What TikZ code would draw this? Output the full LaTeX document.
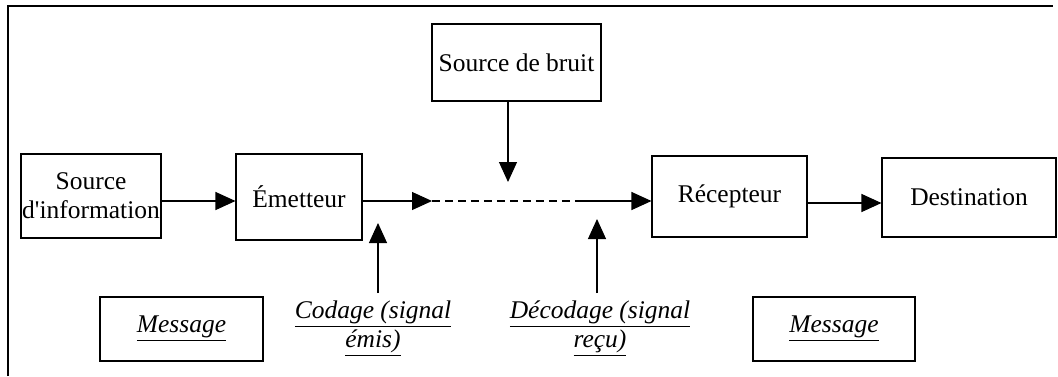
\documentclass[tikz,border=0pt]{standalone}
\usepackage{fontspec}
\setmainfont{Liberation Serif}
\usepackage{tikz}
\usetikzlibrary{arrows.meta}
\newcommand{\souligne}[1]{\underline{\textit{#1}}}

\begin{document}
\begin{tikzpicture}[x=0.02cm,y=-0.02cm,
		font=\fontsize{14.5}{16.5}\selectfont,
		bloc/.style={draw,line width=0.6pt,inner sep=0pt,align=center},
		legende/.style={inner sep=0pt,align=center}]
		\useasboundingbox (0,0) rectangle (1058,376);
		\draw[line width=0.8pt] (8,376) -- (8,6) -- (1053,6);
		%
		\node[bloc,minimum width=140*0.02cm,minimum height=84*0.02cm] (src) at (91,196) {Source\\d\textquotesingle information};
		\node[bloc,minimum width=126*0.02cm,minimum height=86*0.02cm] (emet) at (299,197) {Émetteur};
		\node[bloc,minimum width=169*0.02cm,minimum height=77*0.02cm] (bruit) at (516.5,62.5) {Source de bruit};
		\node[bloc,minimum width=155*0.02cm,minimum height=81*0.02cm] (recep) at (729.5,196.5) {Récepteur};
		\node[bloc,minimum width=174*0.02cm,minimum height=79*0.02cm] (dest) at (969,197.5) {Destination};
		\node[bloc,minimum width=163*0.02cm,minimum height=64*0.02cm] (msgA) at (181.5,329) {\souligne{Message}};
		\node[bloc,minimum width=162*0.02cm,minimum height=64*0.02cm] (msgB) at (834,329) {\souligne{Message}};
		\node[legende] (cod) at (373,329) {\souligne{Codage (signal}\\\souligne{émis)}};
		\node[legende] (dec) at (600,329) {\souligne{Décodage (signal}\\\souligne{reçu)}};
		%
		\coordinate (canalA) at (432,201);
		\coordinate (canalB) at (577,201);
		\coordinate (bruitB) at (508,182);
		\coordinate (codA) at (378,293);
		\coordinate (codB) at (378,223);
		\coordinate (decA) at (597,293);
		\coordinate (decB) at (597,219);
		%
		\path[-{Triangle[length=0.4cm,width=0.36cm]},line width=0.6pt]
		(src.east |- 0,201) edge (emet.west |- 0,201)
		(emet.east |- canalA) edge (canalA)
		(canalB) edge (recep.west |- canalB)
		(recep.east |- 0,203) edge (dest.west |- 0,203)
		(bruit.south -| bruitB) edge (bruitB)
		(codA) edge (codB)
		(decA) edge (decB);
		\draw[line width=0.6pt,dash pattern=on 0.16cm off 0.1cm] (canalA) -- (canalB);
		\end{tikzpicture}
\end{document}
